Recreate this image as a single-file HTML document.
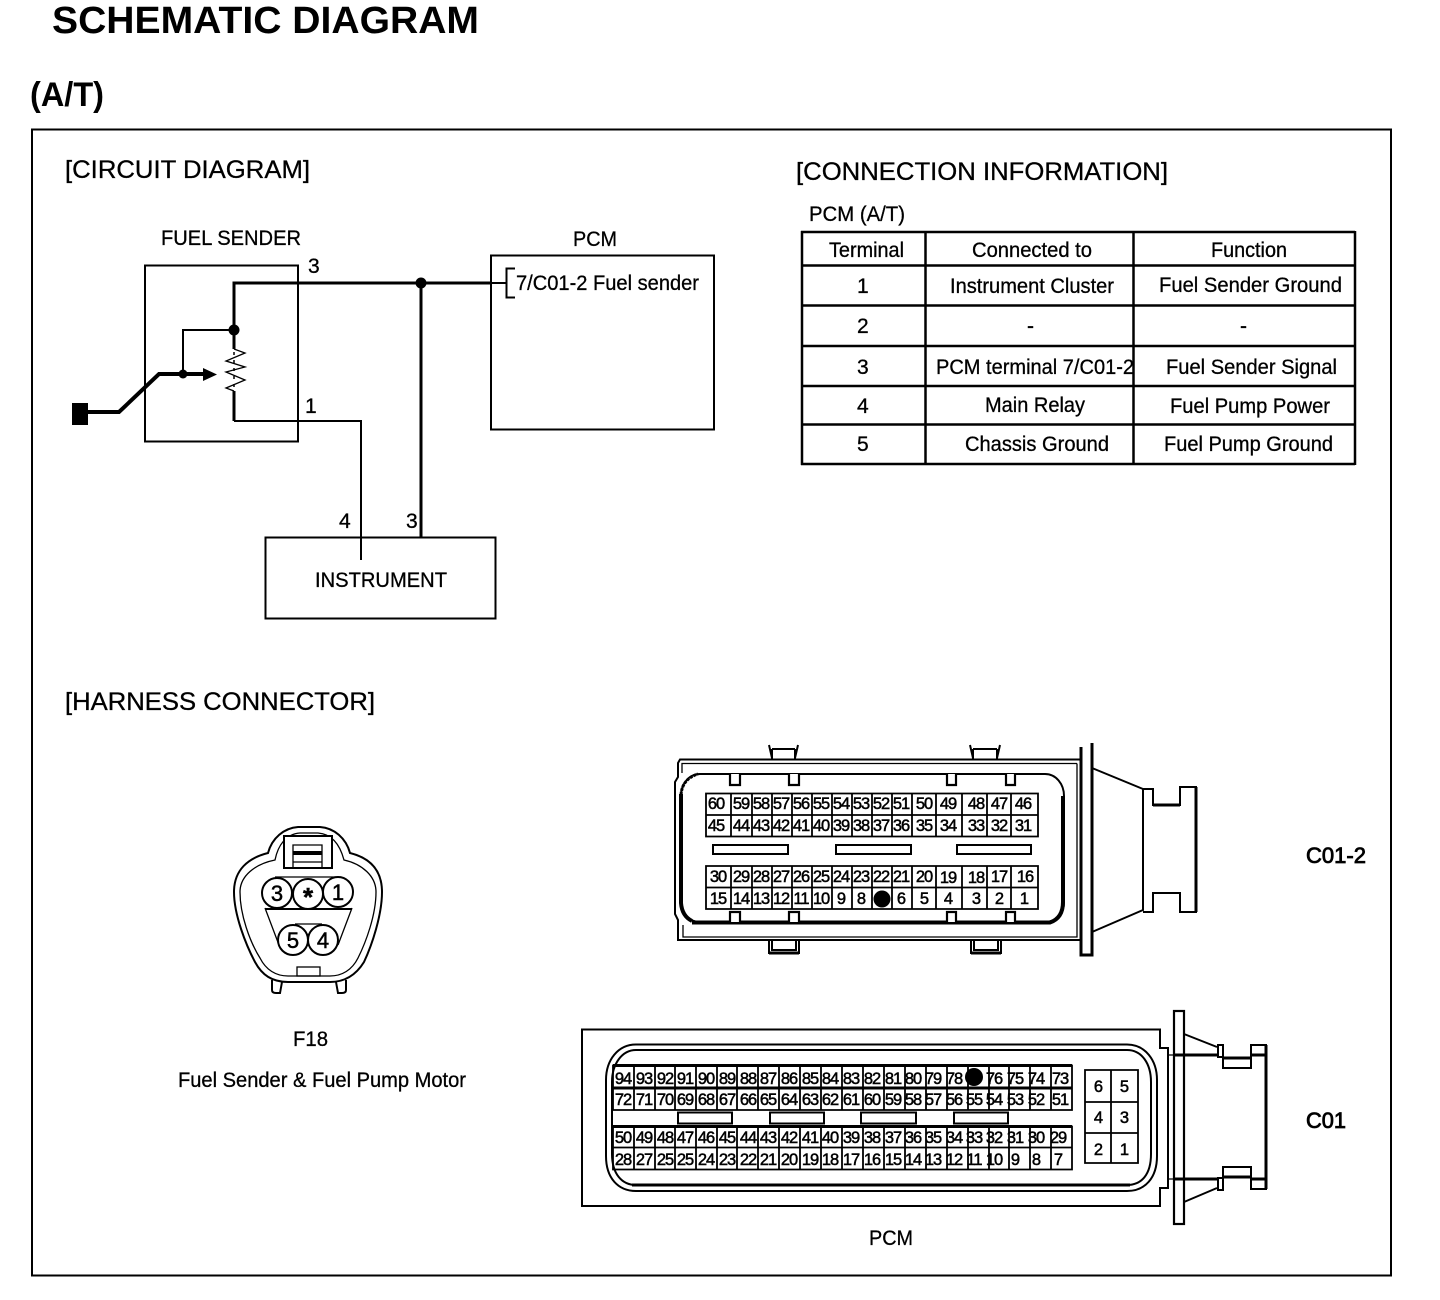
<!DOCTYPE html>
<html><head><meta charset="utf-8"><style>
html,body{margin:0;padding:0;background:#fff}
svg{display:block}
text{font-family:"Liberation Sans",sans-serif;fill:#000}
.t{font-size:25px;stroke:#000;stroke-width:.3}
.s{font-size:21px;stroke:#000;stroke-width:.3}
.n text{font-size:16.500px;text-anchor:middle;letter-spacing:-1px;stroke:#000;stroke-width:.5}
.l{fill:none;stroke:#000;stroke-width:2}
.th{fill:none;stroke:#000;stroke-width:3}
.f{fill:none;stroke:#000;stroke-width:1.300}
</style></head><body>
<svg width="1440" height="1300" viewBox="0 0 1440 1300" xmlns="http://www.w3.org/2000/svg">
<rect width="1440" height="1300" fill="#fff"/>
<text x="52" y="33" font-size="38" font-weight="bold" textLength="427" lengthAdjust="spacingAndGlyphs">SCHEMATIC DIAGRAM</text>
<text x="30" y="106" font-size="34" font-weight="bold" textLength="74" lengthAdjust="spacingAndGlyphs">(A/T)</text>
<rect x="32" y="129.500" width="1359" height="1146" class="l"/>
<text class="t" x="65" y="178" textLength="245" lengthAdjust="spacingAndGlyphs">[CIRCUIT DIAGRAM]</text>
<text class="t" x="796" y="180" textLength="372" lengthAdjust="spacingAndGlyphs">[CONNECTION INFORMATION]</text>
<text class="t" x="65" y="710" textLength="310" lengthAdjust="spacingAndGlyphs">[HARNESS CONNECTOR]</text>

<!-- circuit -->
<text class="s" x="161" y="245" textLength="140" lengthAdjust="spacingAndGlyphs">FUEL SENDER</text>
<text class="s" x="573" y="246" textLength="44" lengthAdjust="spacingAndGlyphs">PCM</text>
<rect x="145" y="265.500" width="153" height="176" class="l"/>
<rect x="491" y="255.500" width="223" height="174" class="l"/>
<rect x="265.500" y="537.500" width="230" height="81" class="l"/>
<path d="M234 330V283H490" class="th"/>
<path d="M421 283V537" class="th"/>
<circle cx="421" cy="283" r="5.500"/>
<path d="M515 268.500H506.500V297.500H515" class="l"/>
<path d="M490 283H506" class="l"/>
<text class="s" x="516" y="290" textLength="183" lengthAdjust="spacingAndGlyphs">7/C01-2 Fuel sender</text>
<path d="M234 330V349M234 391V421" class="th"/>
<path d="M234 421H361V560" class="l"/>
<path d="M234 349L245 353L226 361L245 367L226 372L245 380L226 388L234 391" fill="none" stroke="#000" stroke-width="1.300"/>
<path d="M234 352V390" fill="none" stroke="#000" stroke-width="1.500" stroke-dasharray="3 5"/>
<path d="M183 374V330H234" class="l"/>
<circle cx="234" cy="330" r="5.500"/>
<circle cx="183" cy="374" r="4.500"/>
<rect x="72" y="403" width="16" height="22"/>
<path d="M88 412H119L159 374H205" fill="none" stroke="#000" stroke-width="4"/>
<path d="M203 368L217 374.500L203 381Z"/>
<text class="s" x="308" y="273">3</text>
<text class="s" x="305" y="413">1</text>
<text class="s" x="339" y="528">4</text>
<text class="s" x="406" y="528">3</text>
<text class="s" x="315" y="587" textLength="132" lengthAdjust="spacingAndGlyphs">INSTRUMENT</text>

<!-- table -->
<text class="s" x="809" y="221" textLength="96" lengthAdjust="spacingAndGlyphs">PCM (A/T)</text>
<path d="M801 232H1355M801 265.500H1355M801 305.500H1355M801 346H1355M801 386H1355M801 424.500H1355M801 464H1355M802 231V465M925.500 231V465M1133.500 231V465M1355 231V465" fill="none" stroke="#000" stroke-width="2.500"/>
<g class="s">
<text x="829" y="257" textLength="75" lengthAdjust="spacingAndGlyphs">Terminal</text>
<text x="972" y="257" textLength="120" lengthAdjust="spacingAndGlyphs">Connected to</text>
<text x="1211" y="257" textLength="76" lengthAdjust="spacingAndGlyphs">Function</text>
<text x="857" y="293">1</text>
<text x="950" y="293" textLength="164" lengthAdjust="spacingAndGlyphs">Instrument Cluster</text>
<text x="1159" y="292" textLength="183" lengthAdjust="spacingAndGlyphs">Fuel Sender Ground</text>
<text x="857" y="333">2</text>
<text x="1027" y="333">-</text>
<text x="1240" y="333">-</text>
<text x="857" y="374">3</text>
<text x="936" y="374" textLength="198" lengthAdjust="spacingAndGlyphs">PCM terminal 7/C01-2</text>
<text x="1166" y="374" textLength="171" lengthAdjust="spacingAndGlyphs">Fuel Sender Signal</text>
<text x="857" y="413">4</text>
<text x="985" y="412" textLength="100" lengthAdjust="spacingAndGlyphs">Main Relay</text>
<text x="1170" y="413" textLength="160" lengthAdjust="spacingAndGlyphs">Fuel Pump Power</text>
<text x="857" y="451">5</text>
<text x="965" y="451" textLength="144" lengthAdjust="spacingAndGlyphs">Chassis Ground</text>
<text x="1164" y="451" textLength="169" lengthAdjust="spacingAndGlyphs">Fuel Pump Ground</text>
</g>

<!-- F18 -->
<path d="M268 853C272 838 284 828 298 827H320C334 828 346 838 350 853C370 858 382 870 382 892C382 915 372 945 364 962C356 975 345 982 330 982H288C272 982 262 975 255 962C246 945 234 915 234 892C234 870 248 858 268 853Z" class="l"/>
<path d="M275 860C278 845 286 834 300 833H318C332 834 340 845 344 860C362 864 376 876 376 892C376 915 366 942 358 958C352 970 342 976 330 976H288C276 976 266 970 260 958C250 942 240 915 240 892C240 876 255 864 275 860Z" class="f"/>
<rect x="284" y="836" width="48" height="32" fill="#fff" stroke="#000" stroke-width="2"/>
<path d="M293 868V845H322V868M293 862H322" class="f"/>
<rect x="293" y="851" width="29" height="4" fill="#000"/>
<path d="M272 980V990Q272 993 276 993H280L282 982M346 980V990Q346 993 342 993H338L336 982" class="l"/>
<rect x="297" y="967" width="23" height="9" class="f" fill="#fff"/>
<path d="M275 877H341" class="f"/>
<path d="M265 909H352" class="l"/>
<path d="M265 908L279 945M352 908L338 945M295 924H322" class="f"/>
<g fill="#fff" stroke="#000" stroke-width="2">
<circle cx="277" cy="893" r="15"/><circle cx="308" cy="894" r="15"/><circle cx="338" cy="892" r="15"/>
<circle cx="293" cy="940" r="15"/><circle cx="323" cy="940" r="15"/>
</g>
<g font-size="22" stroke="#000" stroke-width=".5">
<text x="277" y="901" text-anchor="middle">3</text><text x="308" y="906" text-anchor="middle" font-size="26" font-weight="bold">*</text><text x="338" y="900" text-anchor="middle">1</text>
<text x="293" y="948" text-anchor="middle">5</text><text x="323" y="948" text-anchor="middle">4</text>
</g>
<text class="s" x="293" y="1046" textLength="35" lengthAdjust="spacingAndGlyphs">F18</text>
<text class="s" x="178" y="1087" textLength="288" lengthAdjust="spacingAndGlyphs">Fuel Sender &amp; Fuel Pump Motor</text>

<!-- C01-2 connector -->
<path d="M1081 759.500H680L678 763V777L675 782V914L678 920V940H1081" class="l"/>
<path d="M1077 763.500H682V773M683 925V937H1077V763.500" class="f"/>
<path d="M700 774H1045C1056 774 1064 784 1064 796V902C1064 914 1056 922 1045 922H700C689 922 681 914 681 902V796C681 784 689 774 700 774Z" fill="#fff" stroke="#000" stroke-width="2"/>
<path d="M681 794V903Q682 916 692 921M692 922.500H1050Q1063 918 1063 902V796" fill="none" stroke="#000" stroke-width="4"/>
<path d="M681 795Q682 779 698 774" fill="none" stroke="#000" stroke-width="3" stroke-dasharray="3 1"/>
<path d="M769 745L772 758M772 749H795M798 745L795 758M772 749V759M795 749V759M970 745L973 758M973 749H997M1000 745L997 758M973 749V759M997 749V759" class="l"/>
<path d="M769 941V953H799V941M772 941V950H796V941M971 941V953H1001V941M974 941V950H998V941" class="l"/>
<path d="M769 953H799M971 953H1001" fill="none" stroke="#000" stroke-width="3"/>
<g fill="#fff" stroke="#000" stroke-width="2.200">
<path d="M730 774V785H740V774M789 774V785H799V774M947 774V785H956V774M1006 774V785H1015V774"/>
<path d="M730 922V912H740V922M789 922V912H799V922M947 922V912H956V922M1006 922V912H1015V922"/>
</g>
<path d="M1081 747V955H1092V743" fill="#fff" stroke="#000" stroke-width="3"/>
<path d="M1092 768L1143 789V910L1092 932" class="l"/>
<path d="M1143 789H1153V805H1180V787H1196V912H1180V893H1153V912H1143" class="l"/>
<path d="M1153 805H1180" class="th"/><path d="M1196 787V912" class="th"/>
<path d="M706 793.500H1038V836.500H706ZM706 866H1038V909H706ZM706 815H1038M706 887.500H1038M731 793V837M752 793V837M772 793V837M792 793V837M812 793V837M832 793V837M852 793V837M872 793V837M892 793V837M912 793V837M936 793V837M962 793V837M987 793V837M1011 793V837M731 866V909M752 866V909M772 866V909M792 866V909M812 866V909M832 866V909M852 866V909M872 866V909M892 866V909M912 866V909M936 866V909M962 866V909M987 866V909M1011 866V909" fill="none" stroke="#000" stroke-width="1.800"/>
<rect x="713" y="845" width="75" height="9" class="l"/><rect x="836" y="845" width="75" height="9" class="l"/><rect x="957" y="845" width="74" height="9" class="l"/>
<circle cx="882" cy="899" r="8.500"/>
<g class="n">
<text x="716" y="809">60</text><text x="741" y="809">59</text><text x="761" y="809">58</text><text x="781" y="809">57</text><text x="801" y="809">56</text><text x="821" y="809">55</text><text x="841" y="809">54</text><text x="861" y="809">53</text><text x="881" y="809">52</text><text x="901" y="809">51</text><text x="924" y="809">50</text><text x="948" y="809">49</text><text x="976" y="809">48</text><text x="999" y="809">47</text><text x="1023" y="809">46</text>
<text x="716" y="831">45</text><text x="741" y="831">44</text><text x="761" y="831">43</text><text x="781" y="831">42</text><text x="801" y="831">41</text><text x="821" y="831">40</text><text x="841" y="831">39</text><text x="861" y="831">38</text><text x="881" y="831">37</text><text x="901" y="831">36</text><text x="924" y="831">35</text><text x="948" y="831">34</text><text x="976" y="831">33</text><text x="999" y="831">32</text><text x="1023" y="831">31</text>
<text x="718" y="882">30</text><text x="741" y="882">29</text><text x="761" y="882">28</text><text x="781" y="882">27</text><text x="801" y="882">26</text><text x="821" y="882">25</text><text x="841" y="882">24</text><text x="861" y="882">23</text><text x="881" y="882">22</text><text x="901" y="882">21</text><text x="924" y="882">20</text><text x="948" y="883">19</text><text x="976" y="883">18</text><text x="999" y="882">17</text><text x="1025" y="882">16</text>
<text x="718" y="904">15</text><text x="741" y="904">14</text><text x="761" y="904">13</text><text x="781" y="904">12</text><text x="801" y="904">11</text><text x="821" y="904">10</text><text x="841" y="904">9</text><text x="861" y="904">8</text><text x="901" y="904">6</text><text x="924" y="904">5</text><text x="948" y="904">4</text><text x="976" y="904">3</text><text x="999" y="904">2</text><text x="1024" y="904">1</text>
</g>
<text x="1306" y="863" font-size="22" textLength="60" lengthAdjust="spacingAndGlyphs" stroke="#000" stroke-width=".8">C01-2</text>

<!-- C01 connector -->
<path d="M582 1029.500H1160V1048H1168V1188H1160V1206H582Z" class="l" fill="#fff"/>
<path d="M1168 1055H1174M1168 1179H1174" class="f"/>
<path d="M636 1044.500H1127C1145 1044.500 1157 1060 1157 1080V1156C1157 1178 1145 1191 1127 1191H636C618 1191 606 1178 606 1156V1080C606 1060 618 1044.500 636 1044.500Z" fill="#fff" stroke="#000" stroke-width="2"/>
<path d="M636 1050H1127C1142 1050 1151 1064 1151 1082V1154C1151 1174 1142 1185 1127 1185H636C622 1185 612 1174 612 1154V1082C612 1064 622 1050 636 1050Z" class="l"/>
<path d="M632 1185H1130" fill="none" stroke="#000" stroke-width="3"/>
<rect x="1174" y="1011" width="10" height="213" fill="#fff" stroke="#000" stroke-width="2.200"/>
<path d="M1173 1055H1218M1173 1179H1218" class="th"/>
<path d="M1184 1034L1217 1047M1184 1202L1217 1188" class="l"/>
<rect x="1218" y="1045" width="5" height="12" class="l"/><rect x="1218" y="1178" width="5" height="12" class="l"/>
<path d="M1223 1058V1068H1251V1045H1266V1189H1251V1167H1223V1178" class="l"/>
<path d="M1223 1058H1251M1223 1177H1251M1251 1055H1266M1251 1179H1266" class="th"/>
<path d="M1266 1045V1189" class="th"/>
<path d="M613 1065.500H1072V1110H613ZM613 1126.500H1072V1169.500H613ZM613 1088H1072M613 1147.500H1072M634 1065V1110M655 1065V1110M675 1065V1110M696 1065V1110M717 1065V1110M737 1065V1110M758 1065V1110M779 1065V1110M800 1065V1110M821 1065V1110M842 1065V1110M863 1065V1110M884 1065V1110M905 1065V1110M926 1065V1110M947 1065V1110M968 1065V1110M989 1065V1110M1009 1065V1110M1030 1065V1110M1051 1065V1110M634 1126V1170M655 1126V1170M675 1126V1170M696 1126V1170M717 1126V1170M737 1126V1170M758 1126V1170M779 1126V1170M800 1126V1170M821 1126V1170M842 1126V1170M863 1126V1170M884 1126V1170M905 1126V1170M926 1126V1170M947 1126V1170M968 1126V1170M989 1126V1170M1009 1126V1170M1030 1126V1170M1051 1126V1170" fill="none" stroke="#000" stroke-width="1.800"/>
<path d="M613 1065.500H1072M613 1088H1072M613 1126.500H1072" fill="none" stroke="#000" stroke-width="3"/>
<rect x="678" y="1112.500" width="54" height="11" class="l"/><rect x="770" y="1112.500" width="54" height="11" class="l"/><rect x="861" y="1112.500" width="55" height="11" class="l"/><rect x="954" y="1112.500" width="54" height="11" class="l"/>
<circle cx="974" cy="1077" r="9"/>
<path d="M1085 1070H1138V1163H1085ZM1111 1070V1163M1085 1102H1138M1085 1133H1138" fill="none" stroke="#000" stroke-width="1.800"/>
<g class="n">
<text x="623" y="1084">94</text><text x="644" y="1084">93</text><text x="665" y="1084">92</text><text x="685" y="1084">91</text><text x="706" y="1084">90</text><text x="727" y="1084">89</text><text x="748" y="1084">88</text><text x="768" y="1084">87</text><text x="789" y="1084">86</text><text x="810" y="1084">85</text><text x="830" y="1084">84</text><text x="851" y="1084">83</text><text x="872" y="1084">82</text><text x="893" y="1084">81</text><text x="913" y="1084">80</text><text x="933" y="1084">79</text><text x="954" y="1084">78</text><text x="994" y="1084">76</text><text x="1015" y="1084">75</text><text x="1036" y="1084">74</text><text x="1060" y="1084">73</text>
<text x="623" y="1105">72</text><text x="644" y="1105">71</text><text x="665" y="1105">70</text><text x="685" y="1105">69</text><text x="706" y="1105">68</text><text x="727" y="1105">67</text><text x="748" y="1105">66</text><text x="768" y="1105">65</text><text x="789" y="1105">64</text><text x="810" y="1105">63</text><text x="830" y="1105">62</text><text x="851" y="1105">61</text><text x="872" y="1105">60</text><text x="893" y="1105">59</text><text x="913" y="1105">58</text><text x="933" y="1105">57</text><text x="954" y="1105">56</text><text x="974" y="1105">55</text><text x="994" y="1105">54</text><text x="1015" y="1105">53</text><text x="1036" y="1105">52</text><text x="1060" y="1105">51</text>
<text x="623" y="1143">50</text><text x="644" y="1143">49</text><text x="665" y="1143">48</text><text x="685" y="1143">47</text><text x="706" y="1143">46</text><text x="727" y="1143">45</text><text x="748" y="1143">44</text><text x="768" y="1143">43</text><text x="789" y="1143">42</text><text x="810" y="1143">41</text><text x="830" y="1143">40</text><text x="851" y="1143">39</text><text x="872" y="1143">38</text><text x="893" y="1143">37</text><text x="913" y="1143">36</text><text x="933" y="1143">35</text><text x="954" y="1143">34</text><text x="974" y="1143">33</text><text x="994" y="1143">32</text><text x="1015" y="1143">31</text><text x="1036" y="1143">30</text><text x="1058" y="1143">29</text>
<text x="623" y="1165">28</text><text x="644" y="1165">27</text><text x="665" y="1165">25</text><text x="685" y="1165">25</text><text x="706" y="1165">24</text><text x="727" y="1165">23</text><text x="748" y="1165">22</text><text x="768" y="1165">21</text><text x="789" y="1165">20</text><text x="810" y="1165">19</text><text x="830" y="1165">18</text><text x="851" y="1165">17</text><text x="872" y="1165">16</text><text x="893" y="1165">15</text><text x="913" y="1165">14</text><text x="933" y="1165">13</text><text x="954" y="1165">12</text><text x="974" y="1165">11</text><text x="994" y="1165">10</text><text x="1015" y="1165">9</text><text x="1036" y="1165">8</text><text x="1058" y="1165">7</text>
<text x="1098" y="1092">6</text><text x="1124" y="1092">5</text><text x="1098" y="1123">4</text><text x="1124" y="1123">3</text><text x="1098" y="1155">2</text><text x="1124" y="1155">1</text>
</g>
<text x="1306" y="1128" font-size="22" textLength="40" lengthAdjust="spacingAndGlyphs" stroke="#000" stroke-width=".8">C01</text>
<text class="s" x="869" y="1245" textLength="44" lengthAdjust="spacingAndGlyphs">PCM</text>
</svg>
</body></html>
